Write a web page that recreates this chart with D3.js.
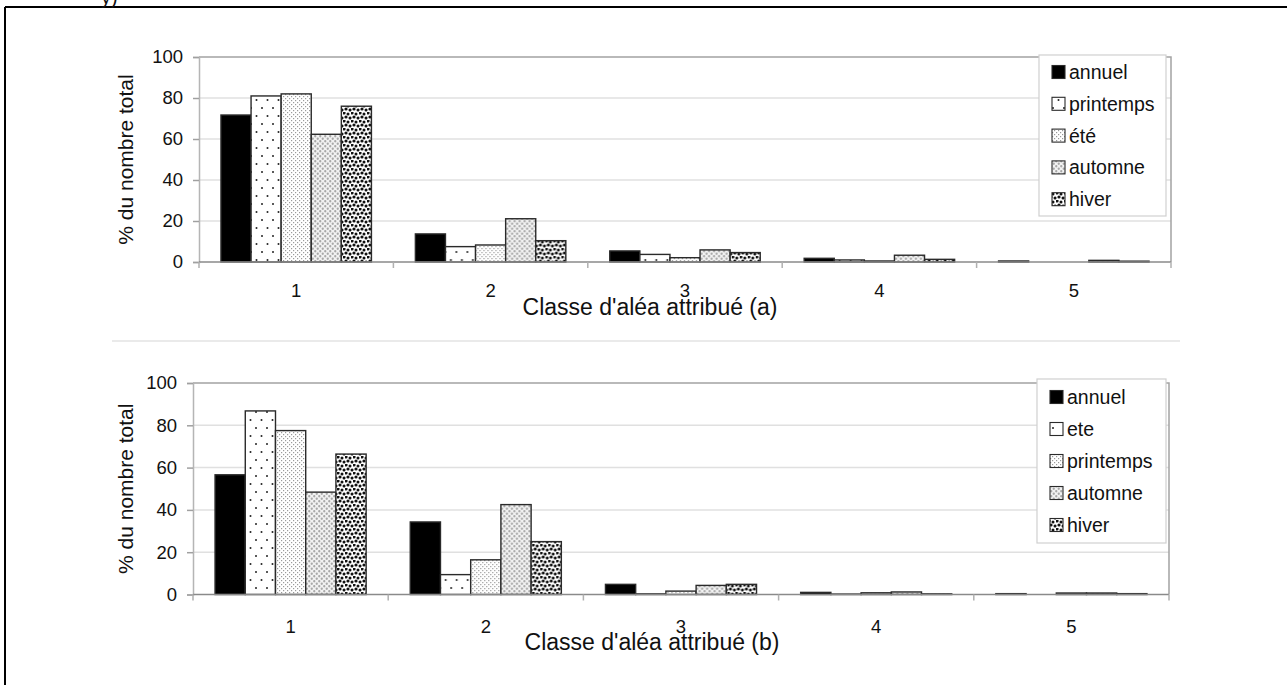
<!DOCTYPE html>
<html>
<head>
<meta charset="utf-8">
<script src="https://cdn.jsdelivr.net/npm/d3@7/dist/d3.min.js"></script>
<style>
  html, body { margin: 0; padding: 0; background: #fff; }
  svg { display: block; }
  text { font-family: "Liberation Sans", Arial, sans-serif; fill: #111; }
</style>
</head>
<body>
<svg id="chart" width="1287" height="685"></svg>
<script>
// ---------- data ----------
const categories = ["1", "2", "3", "4", "5"];
const yTicks = [0, 20, 40, 60, 80, 100];

// chart (a)
const seriesA = ["annuel", "printemps", "été", "automne", "hiver"];
const annuelA    = [71.7, 13.7, 5.4, 1.8, 0.5];
const printempsA = [81.0, 7.5, 3.7, 1.0, 0.0];
const eteA       = [82.0, 8.3, 2.1, 0.5, 0.0];
const automneA   = [62.3, 21.1, 5.9, 3.3, 0.8];
const hiverA     = [76.0, 10.4, 4.6, 1.3, 0.4];

// chart (b)
const seriesB = ["annuel", "ete", "printemps", "automne", "hiver"];
const annuelB    = [56.6, 34.3, 4.8, 1.0, 0.4];
const eteB       = [86.8, 9.4, 0.3, 0.2, 0.0];
const printempsB = [77.5, 16.4, 1.6, 0.8, 0.7];
const automneB   = [48.4, 42.5, 4.3, 1.2, 0.7];
const hiverB     = [66.4, 25.0, 4.8, 0.3, 0.4];

const xTitleA = "Classe d'aléa attribué (a)";
const xTitleB = "Classe d'aléa attribué (b)";
const yTitle = "% du nombre total";

// ---------- drawing ----------
const svg = d3.select("#chart");
const defs = svg.append("defs");

function pattern(id, w, h, bg, draw) {
  const p = defs.append("pattern").attr("id", id)
    .attr("patternUnits", "userSpaceOnUse").attr("width", w).attr("height", h);
  p.append("rect").attr("width", w).attr("height", h).attr("fill", bg);
  draw(p);
}
pattern("pSparse", 11, 16, "#fff", p => {
  p.append("circle").attr("cx", 2.5).attr("cy", 4).attr("r", 1).attr("fill", "#222");
  p.append("circle").attr("cx", 8).attr("cy", 12).attr("r", 1).attr("fill", "#222");
});
pattern("pFine", 4, 4, "#fff", p => {
  p.append("rect").attr("x", 0).attr("y", 0).attr("width", 1.2).attr("height", 1.2).attr("fill", "#9a9a9a");
  p.append("rect").attr("x", 2).attr("y", 2).attr("width", 1.2).attr("height", 1.2).attr("fill", "#9a9a9a");
});
pattern("pGray", 5, 5, "#f2f2f2", p => {
  p.append("circle").attr("cx", 1.25).attr("cy", 1.25).attr("r", 1.15).attr("fill", "#a8a8a8");
  p.append("circle").attr("cx", 3.75).attr("cy", 3.75).attr("r", 1.15).attr("fill", "#a8a8a8");
});
pattern("pBlack", 8, 8, "#fff", p => {
  [[1, 1, 1.6], [5, 2, 1.5], [3, 5, 1.6], [7, 6, 1.5], [-1, 6, 1.5], [7, -2, 1.5]].forEach(([cx, cy, r]) =>
    p.append("circle").attr("cx", cx).attr("cy", cy).attr("r", r).attr("fill", "#111"));
});
const fills = ["#000", "url(#pSparse)", "url(#pFine)", "url(#pGray)", "url(#pBlack)"];

// outer frame (cropped figure)
svg.append("line").attr("x1", 5).attr("x2", 1287).attr("y1", 7).attr("y2", 7)
  .attr("stroke", "#000").attr("stroke-width", 2);
svg.append("line").attr("x1", 5).attr("x2", 5).attr("y1", 7).attr("y2", 685)
  .attr("stroke", "#000").attr("stroke-width", 2);
svg.append("text").attr("x", 101).attr("y", 4).style("font-size", "20px").text("y)");

// separator between the two charts
svg.append("line").attr("x1", 112).attr("x2", 1180).attr("y1", 341).attr("y2", 341)
  .attr("stroke", "#e3e3e3").attr("stroke-width", 1.5);

function drawChart(cfg) {
  const g = svg.append("g");
  const x0 = d3.scaleBand().domain(categories).range([cfg.left, cfg.right]).padding(0);
  const pad = x0.bandwidth() * 0.113;
  const x1 = d3.scaleBand().domain(cfg.series).range([pad, x0.bandwidth() - pad]).padding(0);
  const y = d3.scaleLinear().domain([0, 100]).range([cfg.base, cfg.top]);

  // gridlines
  g.append("g").selectAll("line").data(yTicks.filter(d => d > 0 && d < 100)).join("line")
    .attr("x1", cfg.left).attr("x2", cfg.right)
    .attr("y1", d => y(d)).attr("y2", d => y(d))
    .attr("stroke", "#e0e0e0").attr("stroke-width", 1.5);
  // plot border top/right
  g.append("path")
    .attr("d", `M${cfg.left},${y(100)}H${cfg.right}V${cfg.base}`)
    .attr("fill", "none").attr("stroke", "#a3a3a3").attr("stroke-width", 1.5);

  // bars
  const groups = g.append("g").selectAll("g").data(categories).join("g")
    .attr("transform", d => `translate(${x0(d)},0)`);
  groups.selectAll("rect")
    .data((c, i) => cfg.series.map((s, k) => ({ s, k, v: cfg.values[k][i] })))
    .join("rect")
    .filter(d => d.v > 0)
    .attr("x", d => x1(d.s))
    .attr("width", x1.bandwidth())
    .attr("y", d => y(d.v))
    .attr("height", d => y(0) - y(d.v))
    .attr("fill", d => fills[d.k])
    .attr("stroke", "#2a2a2a").attr("stroke-width", 1.4);

  // y axis
  const ya = g.append("g").attr("transform", `translate(${cfg.left},0)`)
    .call(d3.axisLeft(y).tickValues(yTicks).tickSize(6).tickPadding(10));
  ya.select(".domain").attr("stroke", "#b5b5b5").attr("stroke-width", 1.5);
  ya.selectAll(".tick line").attr("stroke", "#a0a0a0").attr("stroke-width", 1.5);
  ya.selectAll("text").style("font-size", "18.5px").style("font-family", "Liberation Sans, Arial, sans-serif").attr("fill", "#111");

  // x axis baseline + boundary ticks
  g.append("line").attr("x1", cfg.left).attr("x2", cfg.right)
    .attr("y1", cfg.base).attr("y2", cfg.base).attr("stroke", "#8a8a8a").attr("stroke-width", 1.5);
  const bounds = categories.map(c => x0(c)).concat([cfg.right]);
  g.append("g").selectAll("line").data(bounds).join("line")
    .attr("x1", d => d).attr("x2", d => d)
    .attr("y1", cfg.base).attr("y2", cfg.base + 6)
    .attr("stroke", "#b0b0b0").attr("stroke-width", 1.5);
  const xa = g.append("g").attr("transform", `translate(0,${cfg.base})`)
    .call(d3.axisBottom(x0).tickSize(0).tickPadding(cfg.labelPad));
  xa.select(".domain").remove();
  xa.selectAll("text").style("font-size", "18.5px").style("font-family", "Liberation Sans, Arial, sans-serif").attr("fill", "#111");

  // titles
  g.append("text").attr("x", cfg.titleX).attr("y", cfg.titleY)
    .attr("text-anchor", "middle").style("font-size", "23px").text(cfg.xTitle);
  g.append("text")
    .attr("transform", `translate(133,${(cfg.top + cfg.base) / 2}) rotate(-90)`)
    .attr("text-anchor", "middle").style("font-size", "21px").text(yTitle);

  // legend
  const lg = g.append("g");
  lg.append("rect").attr("x", cfg.leg.x).attr("y", cfg.leg.y)
    .attr("width", cfg.leg.w).attr("height", cfg.leg.h)
    .attr("fill", "#fff").attr("stroke", "#d0d0d0").attr("stroke-width", 1.2);
  cfg.series.forEach((s, k) => {
    const cy = cfg.leg.y + cfg.leg.first + k * cfg.leg.step;
    lg.append("rect").attr("x", cfg.leg.x + 13).attr("y", cy - 6.5)
      .attr("width", 13).attr("height", 13)
      .attr("fill", fills[k]).attr("stroke", "#2a2a2a").attr("stroke-width", 1.1);
    lg.append("text").attr("x", cfg.leg.x + 30).attr("y", cy + 7)
      .style("font-size", "19.5px").text(s);
  });
}

drawChart({
  left: 199, right: 1171, top: 57, base: 262,
  series: seriesA, values: [annuelA, printempsA, eteA, automneA, hiverA],
  labelPad: 22, xTitle: xTitleA, titleX: 650, titleY: 315,
  leg: { x: 1039, y: 55, w: 127, h: 161, first: 17, step: 31.8 }
});
drawChart({
  left: 193, right: 1169, top: 383, base: 594.5,
  series: seriesB, values: [annuelB, eteB, printempsB, automneB, hiverB],
  labelPad: 25, xTitle: xTitleB, titleX: 652, titleY: 650,
  leg: { x: 1037, y: 379, w: 129, h: 164, first: 18, step: 32 }
});
</script>
</body>
</html>
